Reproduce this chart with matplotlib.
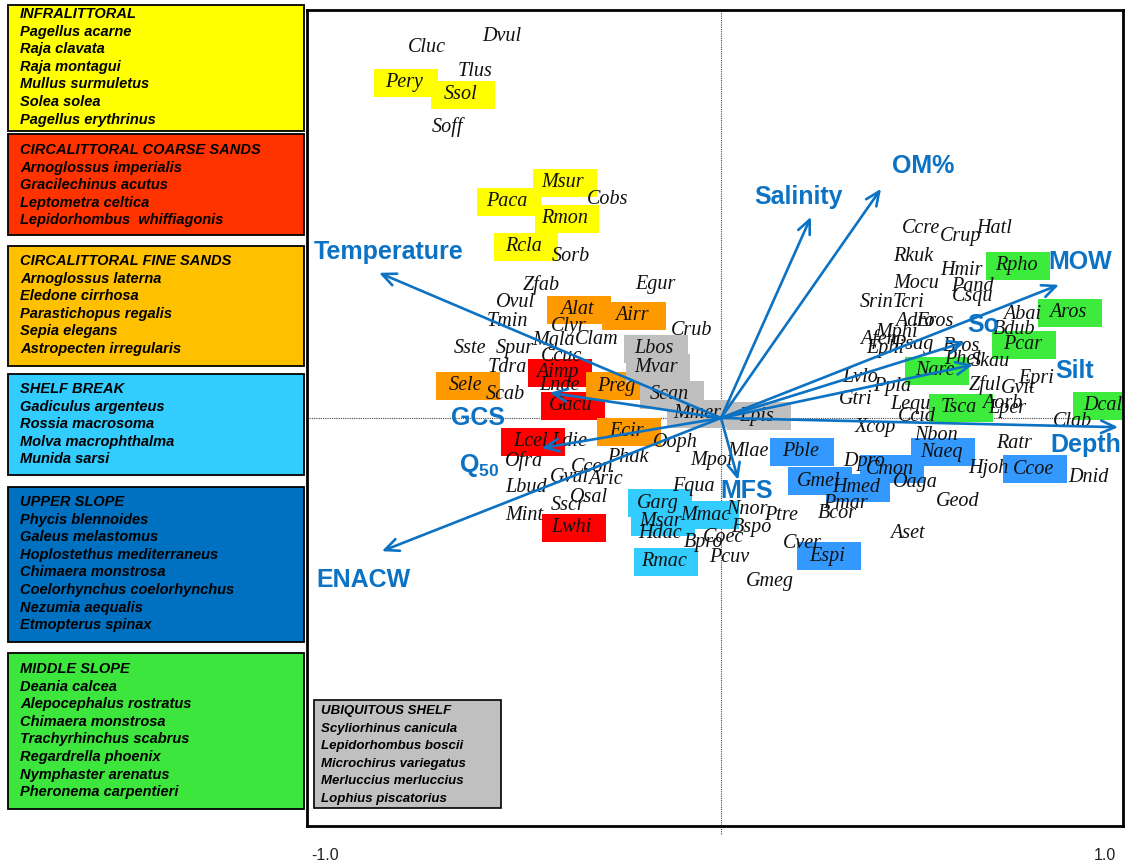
import matplotlib
matplotlib.use('Agg')
import matplotlib.pyplot as plt
from matplotlib.patches import Rectangle

plt.rcParams['mathtext.fontset'] = 'custom'
plt.rcParams['mathtext.bf'] = 'Liberation Sans:bold'
plt.rcParams['mathtext.rm'] = 'Liberation Sans:bold'

# species scores (ordination axes 1 and 2)
species = ['Cluc', 'Dvul', 'Tlus', 'Pery', 'Ssol', 'Soff', 'Msur', 'Paca', 'Cobs', 'Rmon',
           'Rcla', 'Sorb', 'Zfab', 'Egur', 'Ovul', 'Alat', 'Airr', 'Tmin', 'Clyr', 'Crub',
           'Mgla', 'Clam', 'Lbos', 'Sste', 'Spur', 'Ccuc', 'Mvar', 'Tdra', 'Aimp', 'Sele',
           'Lnde', 'Preg', 'Scab', 'Scan', 'Gacu', 'Mmer', 'Lpis', 'Ecir', 'Lcel', 'Ldie',
           'Ooph', 'Ofra', 'Phak', 'Ccon', 'Mpol', 'Gvul', 'Aric', 'Lbud', 'Fqua', 'Osal',
           'Sscr', 'Mint', 'Lwhi', 'Garg', 'Msar', 'Mmac', 'Hdac', 'Bpro', 'Coec', 'Nnor',
           'Ptre', 'Bspo', 'Pcuv', 'Rmac', 'Mlae', 'Pble', 'Dpro', 'Cmon', 'Naeq', 'Nbon',
           'Gmel', 'Hmed', 'Oaga', 'Pmar', 'Bcor', 'Geod', 'Aset', 'Cver', 'Espi', 'Gmeg',
           'Xcop', 'Ratr', 'Hjoh', 'Ccoe', 'Dnid', 'Clab', 'Dcal', 'Epri', 'Gvit', 'Aorb',
           'Lper', 'Tsca', 'Zful', 'Lequ', 'Ccid', 'Gtri', 'Lvlo', 'Ppla', 'Nare', 'Phel',
           'Skau', 'Bros', 'Pcar', 'Bdub', 'Abai', 'Aros', 'Afen', 'Ephi', 'Psag', 'Mphi',
           'Adro', 'Eros', 'Ccre', 'Crup', 'Hatl', 'Rkuk', 'Hmir', 'Rpho', 'Mocu', 'Pand',
           'Csqu', 'Srin', 'Tcri']
sp_x = [-0.735, -0.548, -0.615, -0.793, -0.650, -0.683, -0.395, -0.535, -0.283, -0.390,
        -0.493, -0.375, -0.448, -0.165, -0.513, -0.360, -0.223, -0.533, -0.380, -0.073,
        -0.418, -0.310, -0.168, -0.628, -0.515, -0.400, -0.163, -0.535, -0.408, -0.638,
        -0.405, -0.263, -0.538, -0.128, -0.375, -0.060, 0.090, -0.235, -0.475, -0.380,
        -0.115, -0.493, -0.233, -0.323, -0.023, -0.380, -0.288, -0.488, -0.068, -0.330,
        -0.383, -0.493, -0.373, -0.158, -0.150, -0.040, -0.153, -0.043, 0.005, 0.065,
        0.150, 0.078, 0.020, -0.143, 0.068, 0.198, 0.358, 0.423, 0.550, 0.538,
        0.243, 0.338, 0.485, 0.310, 0.290, 0.593, 0.465, 0.203, 0.265, 0.123,
        0.385, 0.733, 0.668, 0.780, 0.918, 0.878, 0.955, 0.788, 0.743, 0.703,
        0.715, 0.595, 0.660, 0.473, 0.490, 0.338, 0.348, 0.428, 0.535, 0.603,
        0.673, 0.600, 0.753, 0.733, 0.753, 0.868, 0.393, 0.410, 0.480, 0.440,
        0.485, 0.535, 0.500, 0.598, 0.683, 0.480, 0.600, 0.738, 0.488, 0.628,
        0.630, 0.388, 0.468]
sp_y = [0.925, 0.953, 0.865, 0.838, 0.808, 0.728, 0.588, 0.540, 0.545, 0.498,
        0.428, 0.403, 0.333, 0.333, 0.288, 0.270, 0.255, 0.240, 0.228, 0.218,
        0.195, 0.195, 0.173, 0.173, 0.173, 0.153, 0.125, 0.125, 0.113, 0.080,
        0.080, 0.080, 0.058, 0.058, 0.030, 0.010, 0.005, -0.035, -0.060, -0.060,
        -0.060, -0.108, -0.098, -0.123, -0.105, -0.150, -0.155, -0.175, -0.170, -0.198,
        -0.220, -0.243, -0.275, -0.213, -0.260, -0.243, -0.290, -0.310, -0.298, -0.228,
        -0.243, -0.273, -0.348, -0.360, -0.085, -0.085, -0.108, -0.128, -0.085, -0.043,
        -0.158, -0.175, -0.160, -0.213, -0.238, -0.210, -0.288, -0.313, -0.345, -0.408,
        -0.023, -0.065, -0.125, -0.128, -0.148, -0.010, 0.030, 0.100, 0.073, 0.035,
        0.025, 0.025, 0.083, 0.035, 0.003, 0.045, 0.100, 0.080, 0.118, 0.145,
        0.140, 0.178, 0.183, 0.220, 0.258, 0.263, 0.198, 0.175, 0.183, 0.213,
        0.240, 0.240, 0.473, 0.453, 0.473, 0.403, 0.368, 0.380, 0.335, 0.328,
        0.303, 0.288, 0.288]

# species assemblages highlighted in the plot
group_members = [
    ['Pery', 'Ssol', 'Msur', 'Paca', 'Rmon', 'Rcla'],
    ['Aimp', 'Gacu', 'Lcel', 'Lwhi'],
    ['Alat', 'Airr', 'Sele', 'Preg', 'Ecir'],
    ['Garg', 'Msar', 'Mmac', 'Rmac'],
    ['Pble', 'Gmel', 'Hmed', 'Cmon', 'Naeq', 'Ccoe', 'Espi'],
    ['Rpho', 'Aros', 'Pcar', 'Nare', 'Tsca', 'Dcal'],
    ['Lbos', 'Mvar', 'Scan', 'Mmer', 'Lpis'],
]
group_colors = ['#FFFF00', '#FF0000', '#FF9900', '#33CCFF', '#3399FF', '#3CEB3C', '#BFBFBF']

# environmental vectors: arrow tip and label position
env_names = ['Temperature', 'Salinity', 'OM%', 'MOW', 'So', 'Silt', 'Depth', 'MFS', 'GCS',
             r'$\mathbf{Q_{50}}$', 'ENACW']
env_x = [-0.855, 0.225, 0.400, 0.845, 0.610, 0.630, 0.993, 0.043, -0.428, -0.448, -0.848]
env_y = [0.363, 0.503, 0.573, 0.333, 0.190, 0.133, -0.023, -0.155, 0.063, -0.075, -0.333]
env_lx = [-0.830, 0.195, 0.505, 0.898, 0.655, 0.885, 0.913, 0.063, -0.608, -0.605, -0.895]
env_ly = [0.415, 0.553, 0.630, 0.390, 0.233, 0.118, -0.068, -0.183, 0.000, -0.118, -0.405]

# legend on the left
legend_titles = ['INFRALITTORAL', 'CIRCALITTORAL COARSE SANDS', 'CIRCALITTORAL FINE SANDS',
                 'SHELF BREAK', 'UPPER SLOPE', 'MIDDLE SLOPE']
legend_species = [
    ['Pagellus acarne', 'Raja clavata', 'Raja montagui', 'Mullus surmuletus', 'Solea solea',
     'Pagellus erythrinus'],
    ['Arnoglossus imperialis', 'Gracilechinus acutus', 'Leptometra celtica',
     'Lepidorhombus  whiffiagonis'],
    ['Arnoglossus laterna', 'Eledone cirrhosa', 'Parastichopus regalis', 'Sepia elegans',
     'Astropecten irregularis'],
    ['Gadiculus argenteus', 'Rossia macrosoma', 'Molva macrophthalma', 'Munida sarsi'],
    ['Phycis blennoides', 'Galeus melastomus', 'Hoplostethus mediterraneus', 'Chimaera monstrosa',
     'Coelorhynchus coelorhynchus', 'Nezumia aequalis', 'Etmopterus spinax'],
    ['Deania calcea', 'Alepocephalus rostratus', 'Chimaera monstrosa', 'Trachyrhinchus scabrus',
     'Regardrella phoenix', 'Nymphaster arenatus', 'Pheronema carpentieri'],
]
legend_colors = ['#FFFF00', '#FF3300', '#FFC000', '#33CCFF', '#0070C0', '#3CE63C']
ubiq_title = 'UBIQUITOUS SHELF'
ubiq_species = ['Scyliorhinus canicula', 'Lepidorhombus boscii', 'Microchirus variegatus',
                'Merluccius merluccius', 'Lophius piscatorius']

BLUE = '#0B72C4'

fig = plt.figure(figsize=(11.25, 8.63), dpi=100)
ax = fig.add_axes([307 / 1125, 37 / 863, 816 / 1125, 816 / 863])
ax.set_xlim(-1.035, 1.005)
ax.set_ylim(-1.02, 1.02)
ax.set_xticks([])
ax.set_yticks([])
for s in ax.spines.values():
    s.set_linewidth(2)
    s.set_color('black')

ax.plot([0, 0], [-1.04, 1.02], ls=(0, (1, 1)), lw=0.8, color='#444444', clip_on=False, zorder=0.5)
ax.axhline(0, ls=(0, (1, 1)), lw=0.8, color='#444444', zorder=0.5)

# coloured boxes behind the assemblage labels
bw, bh = 0.16, 0.07
for members, col in zip(group_members, group_colors):
    for name in members:
        i = species.index(name)
        ax.add_patch(Rectangle((sp_x[i] - bw / 2 + 0.005, sp_y[i] - bh / 2), bw, bh,
                               facecolor=col, edgecolor='none', zorder=1))

for name, x, y in zip(species, sp_x, sp_y):
    ax.text(x, y, name, family='Liberation Serif', style='italic', fontsize=14.5,
            ha='center', va='center', zorder=2, color='#111111')

for name, x, y, lx, ly in zip(env_names, env_x, env_y, env_lx, env_ly):
    ax.annotate('', xy=(x, y), xytext=(0, 0),
                arrowprops=dict(arrowstyle='->,head_length=1.0,head_width=0.45', color=BLUE,
                                lw=1.9, shrinkA=0, shrinkB=0), zorder=3)
    ax.text(lx, ly, name, family='Liberation Sans', weight='bold', fontsize=18, color=BLUE,
            ha='center', va='center', zorder=4)

# overlay in pixel coordinates for the legend boxes
ov = fig.add_axes([0, 0, 1, 1], zorder=5)
ov.set_xlim(0, 1125)
ov.set_ylim(863, 0)
ov.axis('off')
ov.patch.set_alpha(0)

box_top = [5, 134, 246, 374, 487, 653]
box_bot = [131, 235, 366, 475, 642, 809]
first_line = [14, 150, 261, 389, 502, 669]
for t, b, fl, title, names, col in zip(box_top, box_bot, first_line, legend_titles,
                                       legend_species, legend_colors):
    ov.add_patch(Rectangle((8, t), 296, b - t, facecolor=col, edgecolor='black', lw=1.3))
    for k, line in enumerate([title] + names):
        ov.text(20, fl + k * 17.6, line, family='Liberation Sans', weight='bold',
                style='italic', fontsize=10.5, ha='left', va='center', color='black')

ov.add_patch(Rectangle((314, 700), 187, 108, facecolor='#C0C0C0', edgecolor='black', lw=1.2))
for k, line in enumerate([ubiq_title] + ubiq_species):
    ov.text(321, 711 + k * 17.5, line, family='Liberation Sans',
            weight='bold', style='italic', fontsize=9.5, ha='left', va='center', color='black')

ov.text(325, 855, '-1.0', family='Liberation Sans', fontsize=11.5,
        ha='center', va='center', color='#222222')
ov.text(1105, 855, '1.0', family='Liberation Sans', fontsize=11.5,
        ha='center', va='center', color='#222222')

fig.savefig('out.png', dpi=100)
